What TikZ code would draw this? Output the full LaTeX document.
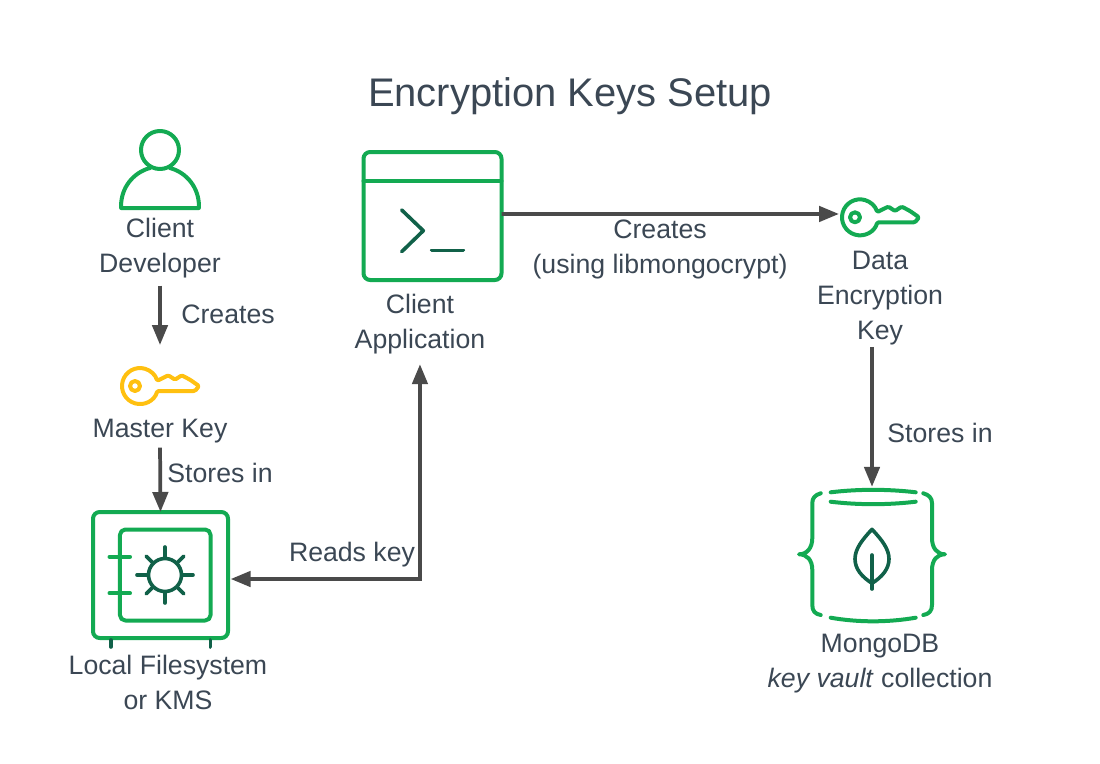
\documentclass[tikz,border=0pt]{standalone}
\usepackage{fontspec}
\setmainfont{Liberation Sans}
\usetikzlibrary{positioning,arrows.meta}
\definecolor{leafgreen}{HTML}{13AA52}
\definecolor{forestgreen}{HTML}{116149}
\definecolor{keyyellow}{HTML}{FFC010}
\definecolor{slatetext}{HTML}{3B4754}
\definecolor{arrowgray}{HTML}{4A4A4A}

\tikzset{
  lbl/.style={align=center, inner sep=0pt, outer sep=0pt, text=slatetext, font=\fontsize{20}{26.25}\selectfont},
  iconbox/.style={inner sep=0pt, outer sep=0pt, minimum width=#1},
  iconline/.style={draw=leafgreen, line width=3pt, line cap=round, line join=round},
  darkline/.style={draw=forestgreen, line width=2.7pt, line cap=round, line join=round},
  framebox/.style={iconline, rounded corners=5pt, inner sep=0pt, outer sep=0pt},
  arrowtip/.tip={Triangle[length=15pt, width=11.5pt]},
  connector/.style={draw=arrowgray, fill=none, line width=2.8pt, -arrowtip},
  keyicon/.pic={
    \draw[iconline, draw=#1, rounded corners=1pt] (-2.7,5) arc[start angle=16, end angle=343, radius=18] -- (8.3,-10.7) -- (15,-6.3) -- (21.7,-10.7) -- (30,-6.3) -- (39,0) -- (35,5) -- cycle;
    \draw[iconline, draw=#1] (-25,0) circle[radius=5];
  }
}

\begin{document}
\begin{tikzpicture}[x=0.75pt, y=-0.75pt]
\useasboundingbox (0,0) rectangle (1100,764);

% TITLE

\node [lbl, font=\fontsize{29.95}{36}\selectfont] (title) at (570,96) {Encryption Keys Setup};

% ICONS

\node [iconbox=58.5pt, minimum height=57.75pt] (developer) at (160,169.5) {};
\draw [iconline] (160,150) circle[radius=19];
\draw [iconline] (150,168) arc[start angle=255, end angle=180, radius=39] -- (121.1,208) -- (198.9,208) -- (198.9,205.7) arc[start angle=0, end angle=-75, radius=39];

\node [iconbox=58.5pt, minimum height=30pt] (masterkey) at (160,386) {};
\pic at (masterkey.center) {keyicon=keyyellow};

\node [framebox, minimum width=101.25pt, minimum height=94.5pt] (safe) at (160.5,575) {};
\node [framebox, minimum width=67.9pt, minimum height=68.25pt, rounded corners=4pt] (safedoor) at (165.25,575) {};
\draw [iconline] (109.5,556.7) -- (130,556.7);
\draw [iconline] (109.5,593.3) -- (130,593.3);
\draw [darkline] (165,575) circle[radius=16.5];
\foreach \spoke/\len in {0/28,45/26.7,90/28,135/26.7,180/28,225/26.7,270/28,315/26.7}
  \draw [darkline] (165,575) ++(\spoke:17) -- ++(\spoke:\len-17);
\draw [darkline] (110.7,640) -- (110.7,647);
\draw [darkline] (210.3,640) -- (210.3,647);

\node [framebox, minimum width=103.5pt, minimum height=96pt] (appwindow) at (432.5,216) {};
\draw [iconline] (363.5,181) -- (501.5,181);
\draw [darkline] (401.7,210) -- (423.3,230.7) -- (401.7,251.7);
\draw [darkline] (431.7,250.3) -- (463.3,250.3);

\node [iconbox=58.5pt, minimum height=30pt] (datakey) at (880,217.3) {};
\pic at (datakey.center) {keyicon=leafgreen};

\node [iconbox=109.5pt, minimum height=99pt] (mongo) at (872,555.5) {};
\draw [iconline] (830.7,492.3) .. controls (858,489) and (888,489) .. (915.7,492.3);
\draw [iconline] (830.7,501.7) .. controls (858,505) and (888,505) .. (915.7,501.7);
\draw [iconline] (830.7,617.7) .. controls (858,622.5) and (888,622.5) .. (915.7,617.7);
\draw [iconline] (820.7,493.3) .. controls (815,495) and (812.3,498) .. (812.3,503) -- (812.3,538) .. controls (812.3,548) and (807,554.3) .. (799,554.3) .. controls (807,554.3) and (812.3,560) .. (812.3,570) -- (812.3,605) .. controls (812.3,611) and (815,614) .. (820.7,615);
\draw [iconline] (923.3,493.3) .. controls (929,495) and (932,498) .. (932,503) -- (932,538) .. controls (932,548) and (937,554.3) .. (945,554.3) .. controls (937,554.3) and (932,560) .. (932,570) -- (932,605) .. controls (932,611) and (929,614) .. (923.3,615);
\draw [darkline] (872,529.3) .. controls (862,540) and (855,549) .. (855,559) .. controls (855,569) and (862,577) .. (872,583.3) .. controls (882,577) and (889,569) .. (889,559) .. controls (889,549) and (882,540) .. (872,529.3) -- cycle;
\draw [darkline] (872,555) -- (872,589);

% LABELS

\node [lbl, below=58.6pt of developer.center, anchor=center] (developerlabel) {Client\\Developer};
\node [lbl, below=33.7pt of masterkey.center, anchor=center] (masterkeylabel) {Master Key};
\node [lbl, below=80.6pt of safe.center, anchor=center, xshift=5.6pt] (safelabel) {Local Filesystem\\or KMS};
\node [lbl, below=81.2pt of appwindow.center, anchor=center, xshift=-9.4pt] (applabel) {Client\\Application};
\node [lbl, below=60.4pt of datakey.center, anchor=center] (datakeylabel) {Data\\Encryption\\Key};
\node [lbl, below=80.8pt of mongo.center, anchor=center, xshift=6pt] (mongolabel) {MongoDB\\\textit{key vault} collection};

\node [lbl] (createsmaster) at (228,314) {Creates};
\node [lbl] (storesmaster) at (220,473) {Stores in};
\node [lbl] (readskey) at (352,555) {Reads key};
\node [lbl] (createsdata) at (660,249) {Creates\\(using libmongocrypt)};
\node [lbl] (storesdata) at (940,433) {Stores in};

% CONNECTORS

\draw [connector, shorten <=6pt, shorten >=15.75pt] (developerlabel.south) -- (masterkey.north);
\draw [connector, shorten <=3.5pt] (masterkeylabel.south) -- (safe.north);
\draw [connector, arrowtip-arrowtip, shorten <=7.5pt, shorten >=2pt] (applabel.south) |- ([yshift=-3pt]safe.east);
\draw [connector, shorten >=1.5pt] ([yshift=1.5pt]appwindow.east) -- ([yshift=2.5pt]datakey.west);
\draw [connector, shorten <=1.5pt, shorten >=2pt] (datakeylabel.south -| mongo.north) -- (mongo.north);

\end{tikzpicture}
\end{document}
